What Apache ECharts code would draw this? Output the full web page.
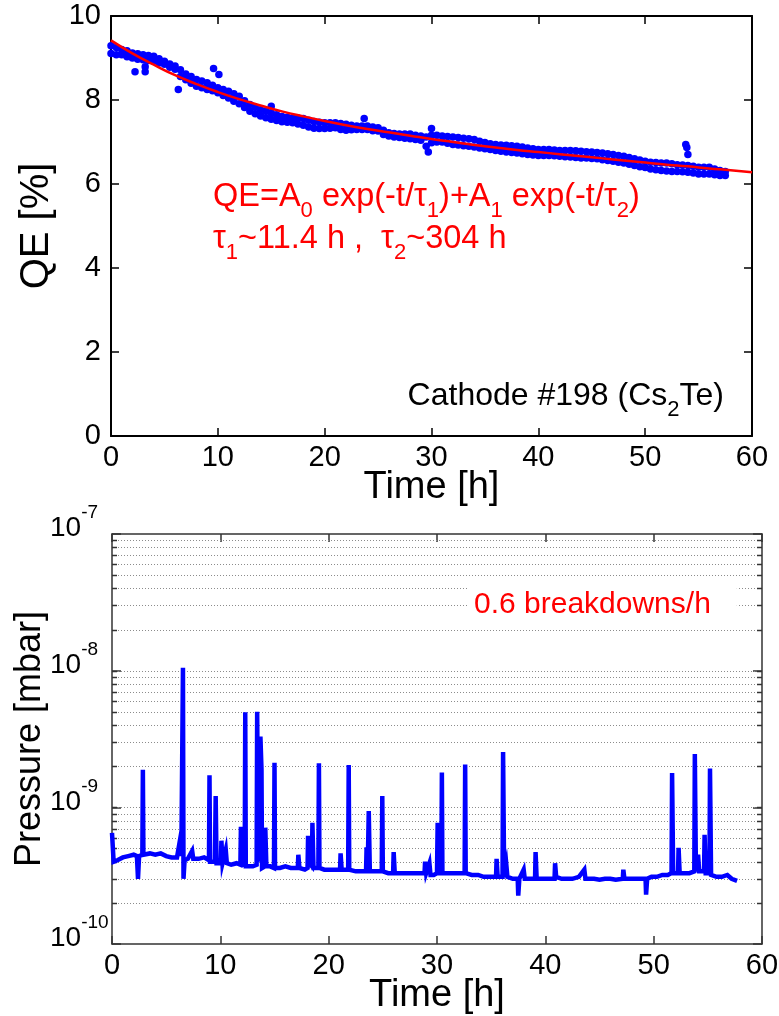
<!DOCTYPE html>
<html>
<head>
<meta charset="utf-8">
<script src="https://cdn.jsdelivr.net/npm/echarts@6/dist/echarts.min.js"></script>
<style>
html, body { margin: 0; padding: 0; background: #fff; }
#chart { width: 779px; height: 1016px; }
</style>
</head>
<body>
<div id="chart"></div>
<script>
// QE band, every half hour (upper and lower edge of the dot cloud)
var qeTime = [0,0.5,1,1.5,2,2.5,3,3.5,4,4.5,5,5.5,6,6.5,7,7.5,8,8.5,9,9.5,
  10,10.5,11,11.5,12,12.5,13,13.5,14,14.5,15,15.5,16,16.5,17,17.5,18,18.5,19,19.5,
  20,20.5,21,21.5,22,22.5,23,23.5,24,24.5,25,25.5,26,26.5,27,27.5,28,28.5,29,29.5,
  30,30.5,31,31.5,32,32.5,33,33.5,34,34.5,35,35.5,36,36.5,37,37.5,38,38.5,39,39.5,
  40,40.5,41,41.5,42,42.5,43,43.5,44,44.5,45,45.5,46,46.5,47,47.5,48,48.5,49,49.5,
  50,50.5,51,51.5,52,52.5,53,53.5,54,54.5,55,55.5,56,56.5,57,57.5];
var qeUpper = [9.29,9.25,9.20,9.17,9.12,9.10,9.08,9.06,9.04,8.98,
  8.92,8.86,8.81,8.72,8.62,8.56,8.49,8.45,8.41,8.35,
  8.29,8.25,8.21,8.15,8.09,7.98,7.89,7.83,7.77,7.73,
  7.69,7.65,7.61,7.59,7.57,7.57,7.56,7.52,7.49,7.47,
  7.46,7.46,7.46,7.44,7.42,7.40,7.38,7.38,7.38,7.36,
  7.34,7.28,7.22,7.20,7.19,7.19,7.19,7.16,7.14,7.12,
  7.16,7.16,7.14,7.13,7.12,7.11,7.09,7.08,7.06,7.02,
  6.99,6.96,6.94,6.93,6.92,6.91,6.90,6.88,6.86,6.84,
  6.82,6.82,6.82,6.81,6.80,6.80,6.80,6.79,6.78,6.77,
  6.76,6.75,6.74,6.72,6.70,6.68,6.66,6.63,6.60,6.57,
  6.54,6.52,6.51,6.50,6.50,6.48,6.46,6.45,6.44,6.42,
  6.40,6.40,6.40,6.36,6.32,6.30];
var qeLower = [9.11,9.08,9.08,9.03,9.00,8.97,8.96,8.94,8.93,8.88,
  8.85,8.78,8.73,8.56,8.48,8.40,8.33,8.29,8.25,8.22,
  8.17,8.11,8.05,7.97,7.91,7.82,7.73,7.67,7.62,7.58,
  7.54,7.51,7.48,7.47,7.46,7.43,7.40,7.36,7.33,7.32,
  7.32,7.33,7.34,7.30,7.28,7.29,7.30,7.30,7.30,7.27,
  7.26,7.18,7.14,7.12,7.11,7.09,7.08,7.06,7.04,6.90,
  6.98,7.00,7.00,6.97,6.94,6.93,6.91,6.90,6.88,6.86,
  6.84,6.82,6.80,6.78,6.76,6.75,6.74,6.72,6.70,6.69,
  6.68,6.68,6.68,6.67,6.66,6.65,6.64,6.63,6.62,6.62,
  6.61,6.60,6.58,6.56,6.54,6.52,6.50,6.47,6.44,6.41,
  6.39,6.36,6.34,6.32,6.31,6.30,6.30,6.29,6.28,6.26,
  6.24,6.24,6.24,6.22,6.20,6.20];
// stray dots off the band
var outlierTime = [2.25, 3.2, 3.2, 6.3, 9.6, 10.1, 15.0, 23.7, 29.7, 30.0, 53.8, 53.9, 54.0];
var outlierQE   = [8.67, 8.79, 8.67, 8.25, 8.75, 8.61, 7.85, 7.56, 6.76, 7.32, 6.94, 6.87, 6.70];

// red double-exponential fit, read every 2 h
var fitTime = [0,2,4,6,8,10,12,14,16,18,20,22,24,26,28,30,32,34,36,38,40,42,44,46,48,50,52,54,56,58,60];
var fitQE = [9.42,9.11,8.84,8.59,8.38,8.19,8.02,7.87,7.73,7.61,7.50,7.40,7.31,7.23,7.15,7.07,
  7.00,6.93,6.87,6.81,6.76,6.71,6.66,6.61,6.56,6.51,6.46,6.42,6.37,6.33,6.28];

// pressure trace, in units of 1e-10 mbar
var pTime = [0,0.15,0.5,1.0,1.5,2.0,2.3,2.4,2.5,2.8,2.85,2.9,3.5,4.0,4.5,5.0,5.5,6.0,6.25,6.4,
  6.55,6.6,6.7,7.0,7.4,7.5,8.0,8.5,8.95,9.0,9.05,9.5,9.57,9.65,10.05,10.1,10.2,10.5,10.6,11.0,
  11.5,11.85,11.9,12.0,12.25,12.3,12.35,13.0,13.35,13.4,13.5,13.65,13.7,13.8,13.85,14.1,14.15,14.25,14.6,14.95,
  15.0,15.05,15.5,16.0,16.5,17.15,17.2,17.3,17.8,18.05,18.1,18.2,18.45,18.5,18.6,19.05,19.1,19.15,19.6,20.0,
  20.5,21.05,21.1,21.2,21.8,21.85,21.9,22.5,23.0,23.45,23.5,23.6,23.7,23.8,24.3,24.9,24.95,25.0,25.5,25.95,
  26.0,26.1,26.6,27.0,27.5,28.0,28.5,28.85,28.9,29.0,29.3,29.4,29.7,30.0,30.06,30.15,30.4,30.45,30.5,31.0,
  31.5,32.0,32.55,32.6,32.65,33.2,33.8,34.3,34.8,35.45,35.5,35.6,36.05,36.1,36.2,36.4,36.5,37.0,37.45,37.5,
  37.6,38.0,38.1,38.5,39.05,39.1,39.2,39.6,40.2,40.85,40.9,41.0,41.5,42.0,42.5,43.1,43.6,43.7,44.0,44.5,
  45.0,45.5,46.0,46.5,47.15,47.2,47.3,47.6,48.0,48.5,49.0,49.25,49.3,49.4,49.8,50.3,50.8,51.3,51.65,51.7,
  51.8,52.25,52.3,52.4,52.8,53.3,53.75,53.8,53.9,54.05,54.1,54.2,54.65,54.7,54.8,55.15,55.2,55.3,55.8,56.3,
  56.8,57.2,57.7];
var pValue = [6.5,4.0,4.1,4.3,4.4,4.5,4.4,3.0,4.4,4.5,18.8,4.5,4.6,4.5,4.6,4.4,4.3,4.3,5.6,4.4,
  105,3.0,4.1,4.2,4.8,4.2,4.2,4.3,4.1,17.2,4.0,4.0,12.1,3.9,3.9,5.7,3.9,4.9,3.9,3.8,
  3.9,3.8,7.2,3.8,3.8,49.7,3.7,3.7,3.8,50,4.0,4.0,33,19,3.6,3.7,7.1,3.7,3.7,3.6,
  21.2,3.6,3.6,3.7,3.6,3.6,4.5,3.6,3.5,3.6,6.2,3.9,3.7,7.7,3.6,3.6,21,3.6,3.5,3.5,
  3.5,3.5,4.6,3.5,3.5,20.4,3.5,3.4,3.4,3.4,5.1,3.4,9.4,3.4,3.4,3.4,12.1,3.4,3.3,3.3,
  4.7,3.3,3.3,3.3,3.3,3.3,3.3,3.3,4.0,3.3,3.9,3.2,3.2,3.3,7.7,3.3,3.3,18,3.3,3.3,
  3.3,3.3,3.3,20.6,3.3,3.2,3.2,3.1,3.1,3.1,4.2,3.1,3.1,25.4,3.1,3.8,3.1,3.0,3.0,2.26,
  3.0,3.5,3.0,3.0,3.0,4.7,3.0,3.0,3.0,3.0,3.9,3.1,3.0,3.0,3.0,3.1,3.5,3.0,3.0,3.0,
  2.95,3.0,3.0,2.95,3.0,3.5,3.0,3.0,3.0,3.0,3.0,3.0,2.3,3.0,3.1,3.1,3.2,3.2,3.3,17.8,
  3.3,3.3,5.05,3.3,3.3,3.3,3.4,24.6,3.4,3.4,4.5,3.4,3.4,6.3,3.3,3.3,19.2,3.2,3.1,3.1,
  3.2,3.0,2.9];

// dotted reference lines of the log axis (mbar)
var pressureGridLines = [2e-10,3e-10,4e-10,5e-10,6e-10,7e-10,8e-10,9e-10,
  1e-9,2e-9,3e-9,4e-9,5e-9,6e-9,7e-9,8e-9,9e-9,
  1e-8,2e-8,3e-8,4e-8,5e-8,6e-8,7e-8,8e-8,9e-8];

var FONT = '"Liberation Sans", Arial, sans-serif';
var RED = '#ff0000';
var BLUE = '#0000ff';

var qeDots = [];
for (var i = 0; i < qeTime.length; i++) {
    qeDots.push([qeTime[i], qeUpper[i]]);
    qeDots.push([qeTime[i], qeLower[i]]);
}
for (var j = 0; j < outlierTime.length; j++) {
    qeDots.push([outlierTime[j], outlierQE[j]]);
}
var fitLine = fitTime.map(function (t, k) { return [t, fitQE[k]]; });
var pressureLine = pTime.map(function (t, k) { return [t, pValue[k] * 1e-10]; });

function valueAxis(grid, pos, opts) {
    var ax = {
        type: 'value', gridIndex: grid, position: pos,
        axisLine: { show: true, onZero: false, lineStyle: { color: opts.color, width: opts.width } },
        axisTick: { show: true, inside: true, length: 8, lineStyle: { color: opts.color, width: 1.5 } },
        axisLabel: { show: !!opts.label, margin: opts.margin || 7, fontFamily: FONT, fontSize: 29, color: '#000' },
        splitLine: { show: false }
    };
    for (var k in opts.extra) ax[k] = opts.extra[k];
    return ax;
}

var topAxis = { color: '#000', width: 2 };
var botAxis = { color: '#333', width: 1.5 };

function withRange(extra) {
    var o = { min: 0, max: 60, interval: 10 };
    for (var k in extra) o[k] = extra[k];
    return o;
}

var timeName = {
    name: 'Time [h]', nameLocation: 'middle', nameGap: 33, nameMoveOverlap: false,
    nameTextStyle: { fontFamily: FONT, fontSize: 38, color: '#000' }
};

// labels of the log axis start at a common left edge, as in the picture
var logLabel = {
    show: true, margin: 62, align: 'left', padding: [0, 0, 11, 0],
    formatter: function (v) {
        var e = Math.round(Math.log10(v));
        return '{b|10}{s|' + e + '}';
    },
    rich: {
        b: { fontFamily: FONT, fontSize: 28, lineHeight: 28, verticalAlign: 'bottom', color: '#000' },
        s: { fontFamily: FONT, fontSize: 19, lineHeight: 19, padding: [0, 0, 20, 0], verticalAlign: 'bottom', color: '#000' }
    }
};

var option = {
    animation: false,
    backgroundColor: '#fff',
    grid: [
        { left: 111, top: 16, width: 641, height: 420, containLabel: false, outerBoundsMode: 'none' },
        { left: 112, top: 534, width: 650, height: 410, containLabel: false, outerBoundsMode: 'none' }
    ],
    xAxis: [
        valueAxis(0, 'bottom', { color: topAxis.color, width: topAxis.width, label: true, extra: withRange(timeName) }),
        valueAxis(0, 'top', { color: topAxis.color, width: topAxis.width, label: false, extra: withRange({}) }),
        valueAxis(1, 'bottom', { color: botAxis.color, width: botAxis.width, label: true, extra: withRange(timeName) }),
        valueAxis(1, 'top', { color: botAxis.color, width: botAxis.width, label: false, extra: withRange({}) })
    ],
    yAxis: [
        valueAxis(0, 'left', { color: topAxis.color, width: topAxis.width, label: true, margin: 10, extra: {
            min: 0, max: 10, interval: 2,
            name: 'QE [%]', nameLocation: 'middle', nameGap: 54, nameRotate: 90, nameMoveOverlap: false,
            nameTextStyle: { fontFamily: FONT, fontSize: 40, color: '#000' } } }),
        valueAxis(0, 'right', { color: topAxis.color, width: topAxis.width, label: false, extra: {
            min: 0, max: 10, interval: 2 } }),
        {
            type: 'log', logBase: 10, gridIndex: 1, position: 'left', min: 1e-10, max: 1e-7,
            axisLine: { show: true, onZero: false, lineStyle: { color: botAxis.color, width: botAxis.width } },
            axisTick: { show: true, inside: true, length: 9, lineStyle: { color: botAxis.color, width: 1.5 } },
            axisLabel: logLabel,
            splitLine: { show: false },
            name: 'Pressure [mbar]', nameLocation: 'middle', nameGap: 64, nameRotate: 90, nameMoveOverlap: false,
            nameTextStyle: { fontFamily: FONT, fontSize: 36, color: '#000' }
        },
        {
            type: 'log', logBase: 10, gridIndex: 1, position: 'right', min: 1e-10, max: 1e-7,
            axisLine: { show: true, onZero: false, lineStyle: { color: botAxis.color, width: botAxis.width } },
            axisTick: { show: true, inside: true, length: 9, lineStyle: { color: botAxis.color, width: 1.5 } },
            axisLabel: { show: false },
            splitLine: { show: false }
        }
    ],
    series: [
        {
            type: 'scatter', xAxisIndex: 0, yAxisIndex: 0,
            data: qeDots, symbol: 'circle', symbolSize: 7.5,
            itemStyle: { color: BLUE, opacity: 1 }, z: 2, silent: true
        },
        {
            type: 'line', xAxisIndex: 0, yAxisIndex: 0,
            data: fitLine, smooth: true, showSymbol: false,
            lineStyle: { color: RED, width: 2.5 }, z: 3, silent: true
        },
        {
            type: 'custom', xAxisIndex: 2, yAxisIndex: 2, z: 1, silent: true,
            data: pressureGridLines.map(function (v) { return [0, v]; }),
            renderItem: function (params, api) {
                var cs = params.coordSys;
                var y = Math.round(api.coord([0, api.value(1)])[1]) + 0.5;
                return {
                    type: 'group',
                    children: [
                        { type: 'line', shape: { x1: cs.x, y1: y, x2: cs.x + cs.width, y2: y },
                          style: { stroke: '#8c8c8c', lineWidth: 1, lineDash: [1, 2] } },
                        { type: 'line', shape: { x1: cs.x, y1: y, x2: cs.x + 5, y2: y },
                          style: { stroke: '#333', lineWidth: 1.5 } },
                        { type: 'line', shape: { x1: cs.x + cs.width - 5, y1: y, x2: cs.x + cs.width, y2: y },
                          style: { stroke: '#333', lineWidth: 1.5 } }
                    ]
                };
            }
        },
        {
            type: 'line', xAxisIndex: 2, yAxisIndex: 2,
            data: pressureLine, showSymbol: false,
            lineStyle: { color: BLUE, width: 4.5, join: 'miter' }, z: 3, silent: true
        }
    ],
    graphic: [
        {
            type: 'text', z: 100, left: 213, top: 181,
            style: {
                text: '{m|QE=A}{s|0}{m| exp(-t/τ}{s|1}{m|)+A}{s|1}{m| exp(-t/τ}{s|2}{m|)}',
                rich: {
                    m: { fontFamily: FONT, fontSize: 32.5, lineHeight: 36, verticalAlign: 'top', fill: RED },
                    s: { fontFamily: FONT, fontSize: 22, lineHeight: 22, padding: [19, 0, 0, 0], verticalAlign: 'top', fill: RED }
                }
            }
        },
        {
            type: 'text', z: 100, left: 213, top: 223,
            style: {
                text: '{m|τ}{s|1}{m|~11.4 h ,  τ}{s|2}{m|~304 h}',
                rich: {
                    m: { fontFamily: FONT, fontSize: 32.5, lineHeight: 36, verticalAlign: 'top', fill: RED },
                    s: { fontFamily: FONT, fontSize: 22, lineHeight: 22, padding: [19, 0, 0, 0], verticalAlign: 'top', fill: RED }
                }
            }
        },
        {
            type: 'text', z: 100, right: 55, top: 380,
            style: {
                text: '{m|Cathode #198 (Cs}{s|2}{m|Te)}',
                rich: {
                    m: { fontFamily: FONT, fontSize: 32, lineHeight: 36, verticalAlign: 'top', fill: '#000' },
                    s: { fontFamily: FONT, fontSize: 22, lineHeight: 22, padding: [19, 0, 0, 0], verticalAlign: 'top', fill: '#000' }
                }
            }
        },
        {
            type: 'text', z: 100, left: 468, top: 585,
            style: {
                text: '0.6 breakdowns/h',
                fontFamily: FONT, fontSize: 30, fill: RED,
                backgroundColor: '#fff', padding: [5, 26, 5, 6]
            }
        }
    ]
};

var chart = echarts.init(document.getElementById('chart'));
chart.setOption(option);
</script>
</body>
</html>
